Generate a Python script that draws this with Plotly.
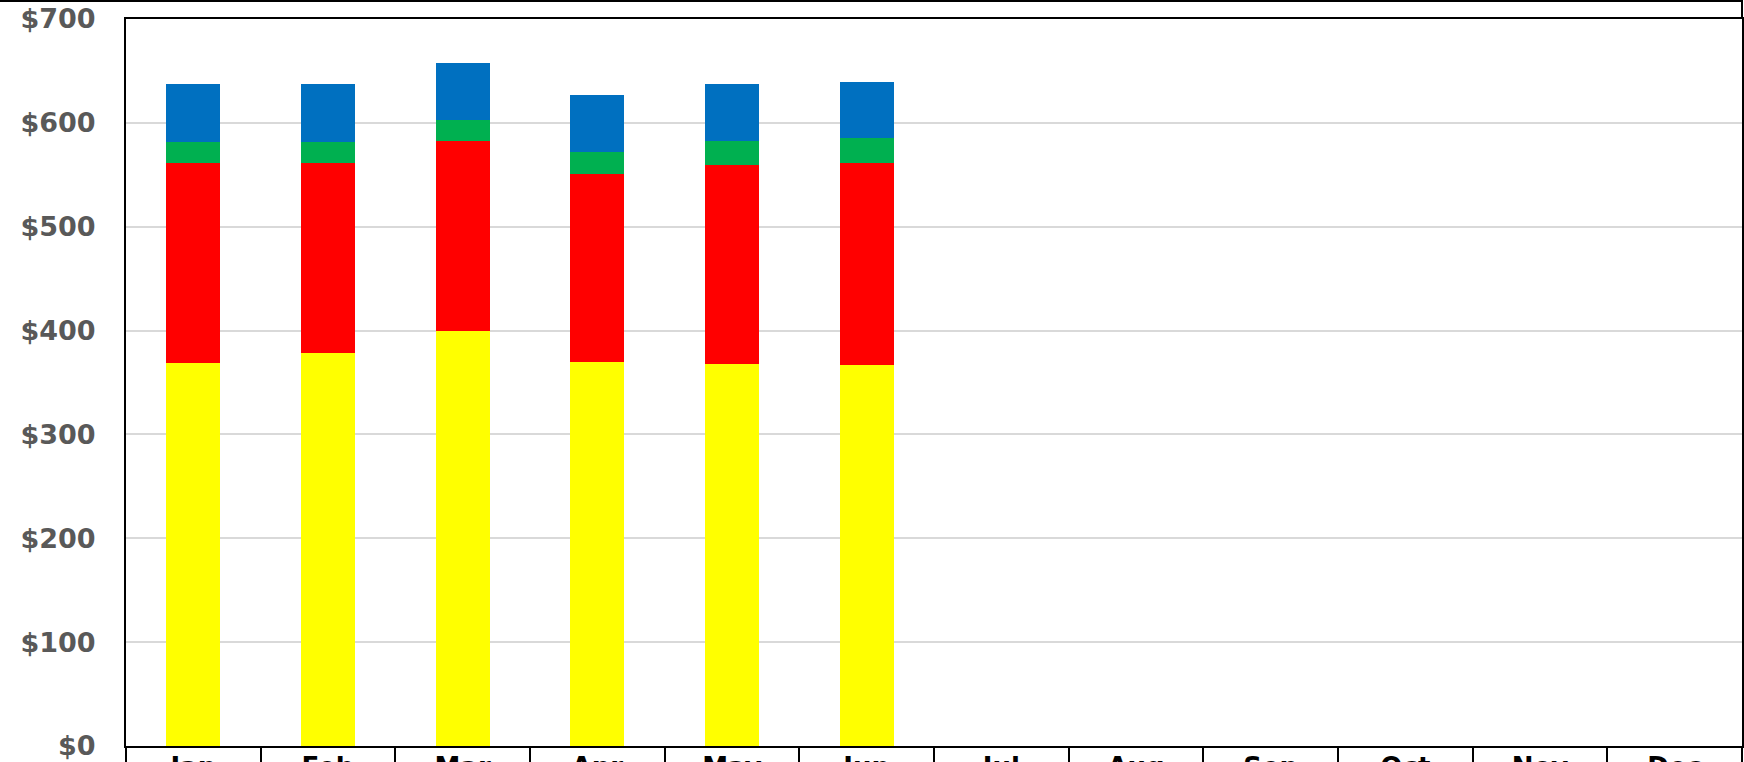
import plotly.graph_objects as go

months = ["Jan", "Feb", "Mar", "Apr", "May", "Jun", "Jul", "Aug", "Sep", "Oct", "Nov", "Dec"]
yellow_vals = [368.6, 378.2, 399.4, 370.1, 367.6, 366.6, None, None, None, None, None, None]
red_vals = [193.1, 183.5, 183.2, 180.7, 191.9, 194.4, None, None, None, None, None, None]
green_vals = [20.3, 20.3, 20.3, 21.2, 23.4, 24.2, None, None, None, None, None, None]
blue_vals = [55.6, 55.6, 55.2, 55.0, 54.3, 54.6, None, None, None, None, None, None]

series = [
    ("Yellow", yellow_vals, "#FFFF00"),
    ("Red", red_vals, "#FF0000"),
    ("Green", green_vals, "#00B050"),
    ("Blue", blue_vals, "#0070C0"),
]

fig = go.Figure()
for name, vals, color in series:
    fig.add_trace(go.Bar(x=months, y=vals, name=name,
                         marker=dict(color=color, line=dict(width=0))))

font_family = "DejaVu Sans"

fig.update_layout(
    barmode="stack",
    bargap=0.6,
    width=1744, height=762,
    margin=dict(l=126, r=2, t=19, b=16, pad=0),
    paper_bgcolor="white",
    plot_bgcolor="white",
    showlegend=False,
    font=dict(family=font_family),
    xaxis=dict(
        type="category",
        categoryorder="array", categoryarray=months,
        range=[-0.5, 11.5],
        showline=True, linecolor="black", linewidth=2, mirror=True,
        ticks="outside", tickson="boundaries", ticklen=40, tickwidth=2, tickcolor="black",
        ticklabelstandoff=-3,
        tickfont=dict(family=font_family, size=26, color="black", weight="bold"),
        showgrid=False, automargin=False, zeroline=False,
    ),
    yaxis=dict(
        range=[0, 700], dtick=100, tick0=0,
        tickprefix="$", tickformat="d",
        showline=True, linecolor="black", linewidth=2, mirror=True,
        showgrid=True, gridcolor="#D9D9D9", gridwidth=2,
        ticks="", ticklabelstandoff=23,
        tickfont=dict(family=font_family, size=27, color="#595959", weight="bold"),
        automargin=False, zeroline=False,
    ),
    shapes=[
        dict(type="line", xref="paper", yref="paper",
             x0=-0.1, x1=1.0, y0=1.0248, y1=1.0248,
             line=dict(color="black", width=2)),
        dict(type="line", xref="paper", yref="paper",
             x0=1.0, x1=1.0, y0=1.0, y1=1.03,
             line=dict(color="black", width=2)),
    ],
)

fig.write_html("out.html")
